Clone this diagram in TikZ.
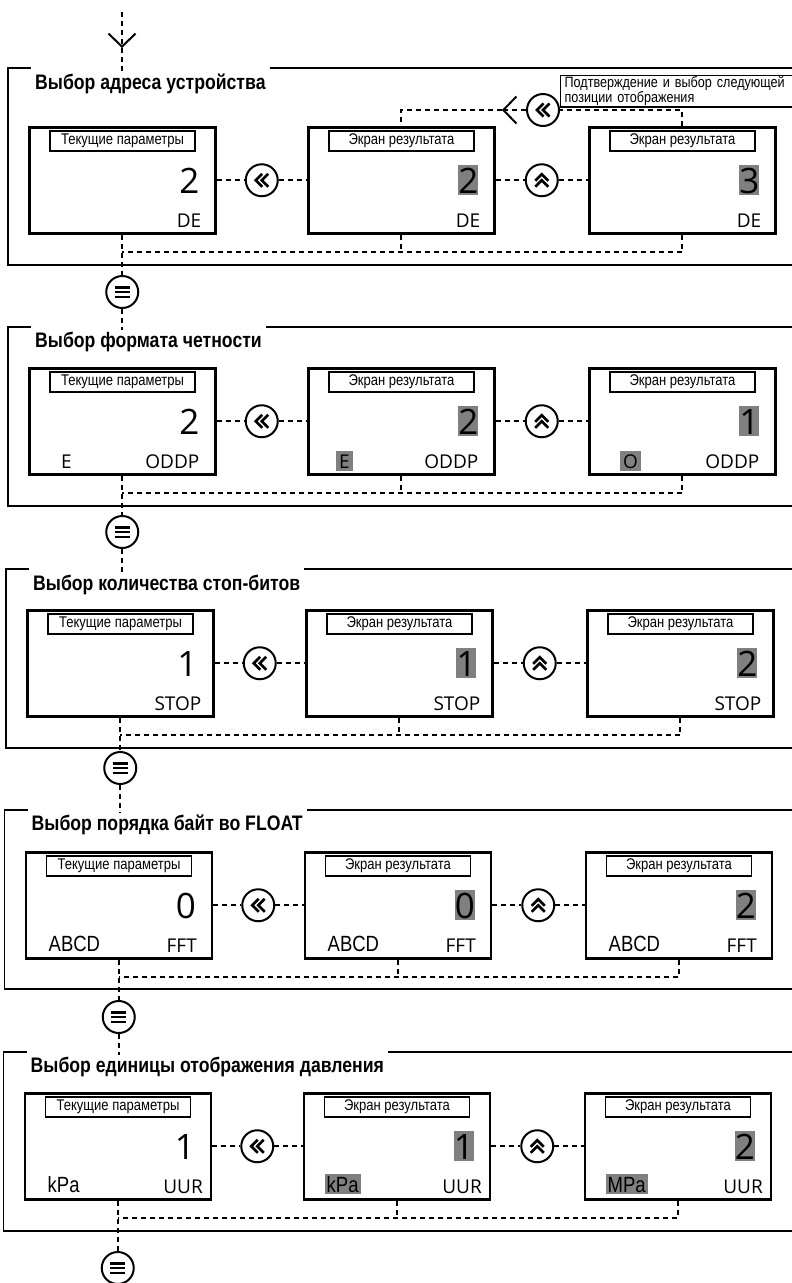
\documentclass[tikz,border=0pt]{standalone}
\usepackage{fontspec}
\setmainfont{Liberation Sans}
\newfontfamily\narrow[FakeStretch=0.84]{Liberation Sans}
\newfontfamily\disp{Open Sans}
\usetikzlibrary{arrows.meta,calc}
\definecolor{hlgray}{RGB}{128,128,128}
\tikzset{
 scr/.style={draw, line width=2.5pt, minimum width=186pt, minimum height=106pt, inner sep=0pt, anchor=north west},
 lab/.style={draw, line width=1.3pt, minimum width=145pt, minimum height=20pt, inner sep=0pt, font=\narrow\fontsize{15.5}{17}\selectfont},
 val/.style={anchor=east, inner xsep=0pt, inner ysep=0pt, text height=28pt, text depth=2pt, font=\disp\fontsize{35}{40}\selectfont},
 hlfill/.style={fill=hlgray},
 rtxt/.style={anchor=east, inner sep=0pt, text height=17pt, text depth=3pt, font=\disp\fontsize{19}{21}\selectfont},
 ltxt/.style={anchor=west, inner xsep=3pt, inner ysep=0pt, text height=17pt, text depth=3pt, font=\disp\fontsize{19}{21}\selectfont},
 lntxt/.style={anchor=west, inner xsep=2pt, inner ysep=0pt, text height=18pt, text depth=2pt, font=\narrow\fontsize{22}{24}\selectfont},
 frm/.style={line width=1.5pt},
 conn/.style={line width=1.8pt, dash pattern=on 5pt off 4pt},
 btn/.style={draw, circle, line width=2pt, minimum size=32pt, inner sep=0pt, fill=white},
 bleft/.style={btn, path picture={\begin{scope}[shift={(path picture bounding box.center)}]
   \draw[line width=2.6pt, line join=miter] (0.5,-6.5) -- (-6,0) -- (0.5,6.5) (6.5,-6.5) -- (0,0) -- (6.5,6.5);
   \end{scope}}},
 bup/.style={btn, path picture={\begin{scope}[shift={(path picture bounding box.center)}]
   \draw[line width=2.6pt, line join=miter] (-6.5,0.5) -- (0,-6) -- (6.5,0.5) (-6.5,6.5) -- (0,0) -- (6.5,6.5);
   \end{scope}}},
 bmenu/.style={btn, path picture={\begin{scope}[shift={(path picture bounding box.center)}]
   \draw[line width=2.6pt] (-7.5,-4.8) -- (7.5,-4.8) (-7.5,0) -- (7.5,0) (-7.5,4.8) -- (7.5,4.8);
   \end{scope}}},
 ttl/.style={anchor=base west, inner xsep=4pt, font=\narrow\bfseries\fontsize{21}{24}\selectfont},
 note/.style={draw, line width=1.3pt, anchor=north west, align=left, text width=235pt, inner xsep=4pt, inner ysep=1pt, font=\narrow\fontsize{15}{11.5}\selectfont},
 barb/.style={-{Straight Barb[length=13pt,width=27pt,line width=2pt]}},
}
% #1 prefix, #2 #3 #4 values, #5 right text, #6 right offset
\newcommand\mystage[6]{%
 \node[scr] (#1b1) at (28,0) {};
 \node[scr] (#1b2) at (307,0) {};
 \node[scr] (#1b3) at (588,0) {};
 \node[lab] (#1b1l) at ($(#1b1.north west)+(94.5,15)$) {Текущие параметры};
 \node[lab] (#1b2l) at ($(#1b2.north west)+(94.5,15)$) {Экран результата};
 \node[lab] (#1b3l) at ($(#1b3.north west)+(94.5,15)$) {Экран результата};
 \node[val] (#1b1v) at ($(#1b1.north east)+(-17,54)$) {#2};
 \node[val,hlfill] (#1b2v) at ($(#1b2.north east)+(-17,54)$) {#3};
 \node[val,hlfill] (#1b3v) at ($(#1b3.north east)+(-17,54)$) {#4};
 \node[rtxt] (#1b1r) at ($(#1b1.north east)+(-#6,94)$) {#5};
 \node[rtxt] (#1b2r) at ($(#1b2.north east)+(-#6,94)$) {#5};
 \node[rtxt] (#1b3r) at ($(#1b3.north east)+(-#6,94)$) {#5};
 \node[bleft] (#1k1) at ($(#1b1.east)!0.5!(#1b2.west)$) {};
 \node[bup] (#1k2) at ($(#1b2.east)!0.5!(#1b3.west)$) {};
 \draw[conn] (#1b1) -- (#1k1) -- (#1b2);
 \draw[conn] (#1b2) -- (#1k2) -- (#1b3);
 \draw[conn] (#1b3.south) |- (#1b1.south |- 0,126);
 \draw[conn] (#1b2.south) -- (#1b2.south |- 0,126);
}
% #1 prefix, #2 title, #3 frame top (local), #4 title baseline (local), #5 bottom
\newcommand\stageframe[5]{%
 \node[ttl] (#1t) at (31,#4) {#2};
 \draw[frm] (#1t.west |- 0,#3) -- (8,#3) -- (8,#5) -- (800,#5);
 \draw[frm] (#1t.east |- 0,#3) -- (800,#3);
}
\begin{document}
\begin{tikzpicture}[x=1pt,y=-1pt]
\useasboundingbox (0,0) rectangle (792,1283);
\fill[white] (0,0) rectangle (792,1283);

% entry
\coordinate (start) at (122,12);
\coordinate (toparr) at (122,48);
\coordinate (s1in) at (122,72);
\draw[conn, barb] (start) -- (toparr);
\draw[conn] (toparr) -- (s1in);

% Stage 1
\begin{scope}[shift={(0,126)}]
 \stageframe{s1}{Выбор адреса устройства}{-58}{-37}{139}
 \mystage{s1}{2}{2}{3}{DE}{15}
 \node[bleft] (ok) at (543,-16) {};
 \coordinate (okarr) at (502,-16);
 \draw[conn] (s1b3.north) |- (ok);
 \draw[conn, barb] (ok) -- (okarr);
 \draw[conn] (okarr) -| (s1b2.north);
 \node[note] (nt) at (560,-51) {Подтверждение и выбор следующей\\позиции отображения};
\end{scope}
\node[bmenu] (m1) at (s1b1.south |- 0,292) {};
\draw[conn] (s1b1.south) -- (m1);

% Stage 2
\begin{scope}[shift={(0,367)}]
 \stageframe{s2}{Выбор формата четности}{-40}{-20}{139}
 \mystage{s2}{2}{2}{1}{ODDP}{17}
 \node[ltxt] (s2b1x) at ($(s2b1.north west)+(30,94)$) {E};
 \node[ltxt,hlfill] (s2b2x) at ($(s2b2.north west)+(29,94)$) {E};
 \node[ltxt,hlfill] (s2b3x) at ($(s2b3.north west)+(32,94)$) {O};
\end{scope}
\coordinate (s2in) at (m1 |- 0,330);
\draw[conn] (m1) -- (s2in);
\node[bmenu] (m2) at (s2b1.south |- 0,532) {};
\draw[conn] (s2b1.south) -- (m2);

% Stage 3
\begin{scope}[shift={(-2,609)}]
 \stageframe{s3}{Выбор количества стоп-битов}{-40}{-19}{139}
 \mystage{s3}{1}{1}{2}{STOP}{13}
\end{scope}
\coordinate (s3in) at (m2 |- 0,572);
\draw[conn] (m2) -- (s3in);
\node[bmenu] (m3) at (s3b1.south |- 0,768) {};
\draw[conn] (s3b1.south) -- (m3);

% Stage 4
\begin{scope}[shift={(-3.5,851)}]
 \stageframe{s4}{Выбор порядка байт во FLOAT}{-41}{-21}{138}
 \mystage{s4}{0}{0}{2}{FFT}{16}
 \node[lntxt] (s4b1x) at ($(s4b1.north west)+(22,92)$) {ABCD};
 \node[lntxt] (s4b2x) at ($(s4b2.north west)+(22,92)$) {ABCD};
 \node[lntxt] (s4b3x) at ($(s4b3.north west)+(22,92)$) {ABCD};
\end{scope}
\coordinate (s4in) at (m3 |- 0,813);
\draw[conn] (m3) -- (s4in);
\node[bmenu] (m4) at (s4b1.south |- 0,1017) {};
\draw[conn] (s4b1.south) -- (m4);

% Stage 5
\begin{scope}[shift={(-4.5,1092)}]
 \stageframe{s5}{Выбор единицы отображения давления}{-40}{-20}{139}
 \mystage{s5}{1}{1}{2}{UUR}{9}
 \node[lntxt] (s5b1x) at ($(s5b1.north west)+(22,92)$) {kPa};
 \node[lntxt,hlfill] (s5b2x) at ($(s5b2.north west)+(22,92)$) {kPa};
 \node[lntxt,hlfill] (s5b3x) at ($(s5b3.north west)+(22,92)$) {MPa};
\end{scope}
\coordinate (s5in) at (m4 |- 0,1055);
\draw[conn] (m4) -- (s5in);
\node[bmenu] (m5) at (s5b1.south |- 0,1268) {};
\draw[conn] (s5b1.south) -- (m5);
\end{tikzpicture}
\end{document}
